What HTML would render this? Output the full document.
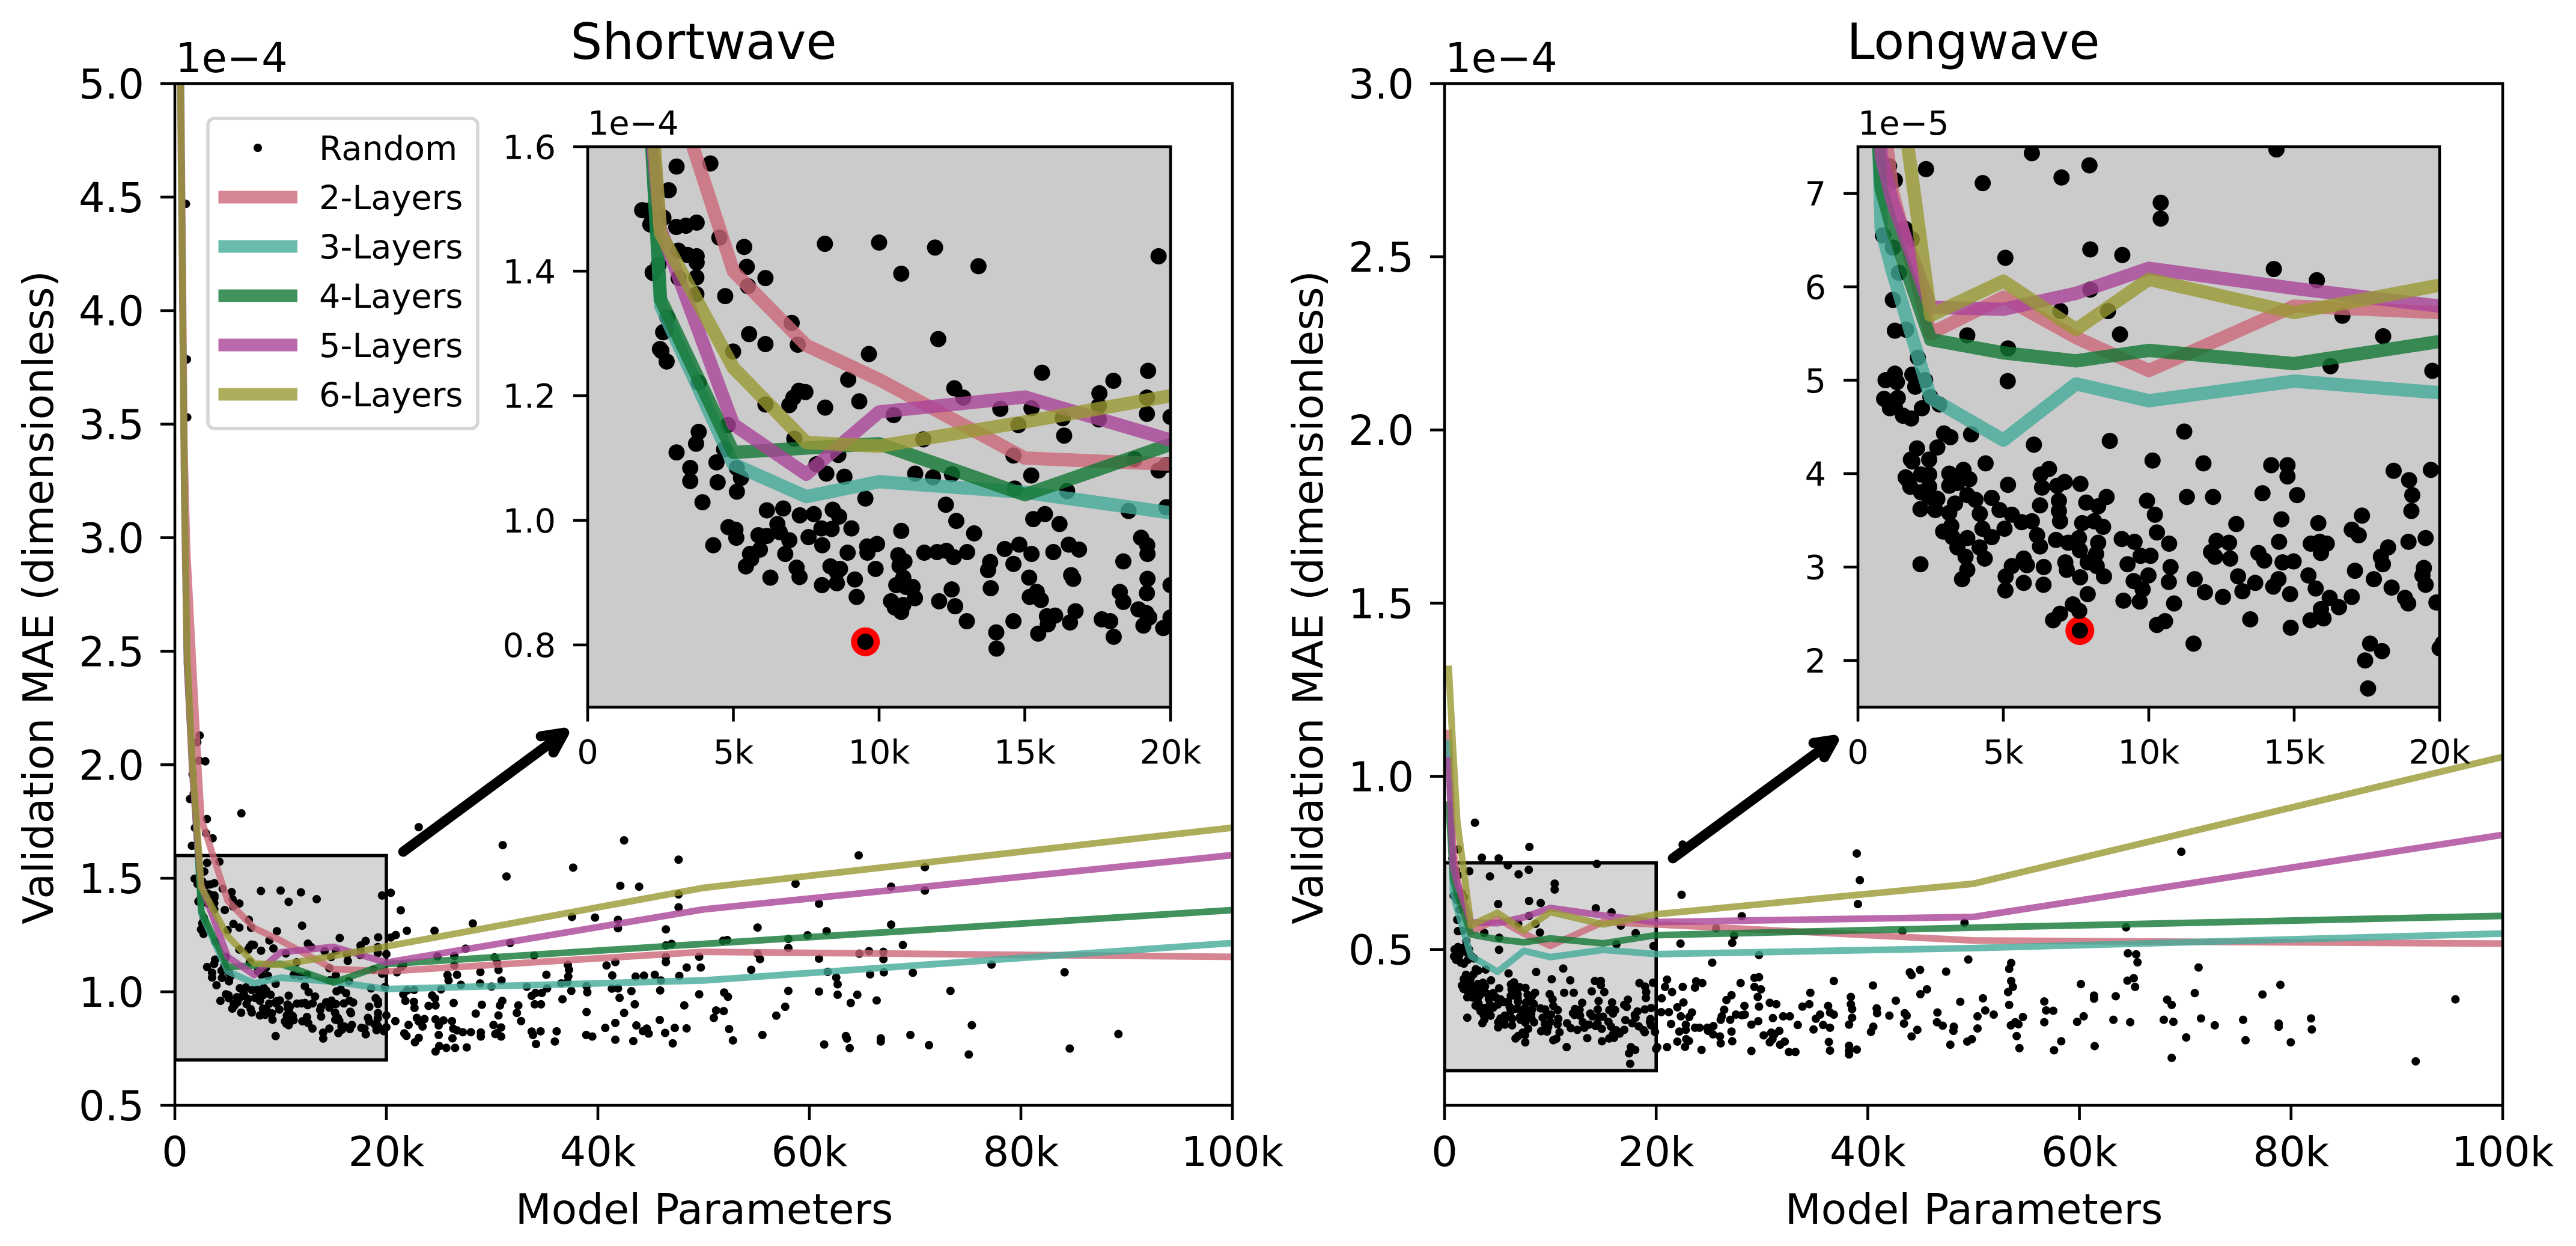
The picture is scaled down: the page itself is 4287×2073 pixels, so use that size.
<!DOCTYPE html>
<html lang="en">
<head>
<meta charset="utf-8">
<title>Validation MAE vs model parameters</title>
<style>
html,body{margin:0;padding:0;background:#fff;}
svg{display:block;}
text{font-family:"DejaVu Sans","Liberation Sans",sans-serif;fill:#000;}
</style>
</head>
<body>
<svg id="figure" xmlns="http://www.w3.org/2000/svg" width="4287" height="2073" viewBox="0 0 4287 2073">
<rect x="0" y="0" width="4287" height="2073" fill="#ffffff"/>
</svg>
<script>
// ---------- Data: Shortwave (params in thousands, MAE in units of 1e-4) ----------
const layerNames = ["2-Layers","3-Layers","4-Layers","5-Layers","6-Layers"];
const layerColors = ["#CC6677","#44AA99","#117733","#AA4499","#999933"];
const swParams = [0.4,0.9,1.15,1.65,2.2,2.5,5,7.5,10,15,20,50,100];
const sw2Layers = [5.9,3.4,2.95,2.5,2.0,1.76,1.40,1.281,1.226,1.10,1.09,1.176,1.154];
const sw3Layers = [5.7,3.2,2.45,2.0,1.6,1.345,1.090,1.038,1.062,1.045,1.012,1.050,1.215];
const sw4Layers = [5.7,3.2,2.45,2.0,1.6,1.355,1.109,1.116,1.123,1.041,1.122,1.211,1.360];
const sw5Layers = [5.6,3.15,2.45,1.97,1.62,1.468,1.154,1.074,1.174,1.198,1.129,1.363,1.602];
const sw6Layers = [5.6,3.2,2.5,2.0,1.66,1.461,1.245,1.125,1.119,1.158,1.200,1.458,1.723];
const swBest = [9.53,0.805];
const swRandom = [
[1.05,4.47],[1.14,3.785],[1.17,3.53],[2.34,2.129],[2.12,2.099],[2.88,2.015],[2.30,2.018],[1.68,1.958],[1.79,1.873],[1.43,1.849],[3.03,1.761],[6.29,1.786],[1.9,1.722],[2.95,1.698],[3.57,1.676],[1.61,1.643],[1.87,1.498],[2.23,1.398],[2.59,1.302],[2.48,1.275],
[4.21,1.573],[3.05,1.568],[2.78,1.530],[2.02,1.497],[2.60,1.486],[2.15,1.475],[3.04,1.471],[3.37,1.473],[3.74,1.478],[4.52,1.454],[5.37,1.439],[8.14,1.444],[10.0,1.446],[11.92,1.438],[13.41,1.408],[19.59,1.424],[10.76,1.396],[3.11,1.433],[3.43,1.426],[3.74,1.424],[3.74,1.414],[5.46,1.407],[2.43,1.410],[2.25,1.397],[3.12,1.389],[3.73,1.390],[6.10,1.389],[5.50,1.376],[3.73,1.363],[4.72,1.360],
[2.73,1.326],[2.67,1.304],[7.00,1.317],[5.54,1.299],[6.10,1.283],[7.21,1.282],[12.03,1.291],[4.99,1.271],[2.53,1.272],[2.71,1.255],[9.65,1.267],[15.59,1.237],[19.23,1.240],[18.04,1.224],[8.94,1.226],[3.81,1.221],[12.58,1.212],[12.89,1.197],[7.47,1.206],[7.25,1.208],[7.06,1.197],[6.92,1.185],[6.10,1.186],[8.15,1.181],[9.32,1.191],[17.56,1.204],[17.54,1.184],[19.19,1.197],[19.19,1.171],[14.16,1.179],[15.23,1.180],[10.50,1.169],[16.30,1.164],[17.54,1.162],[20.0,1.166],[14.78,1.153],[4.81,1.153],[16.35,1.136],[11.52,1.130],[3.81,1.142],[3.72,1.123],[7.09,1.131],[3.05,1.109],[4.68,1.114],[8.60,1.105],[14.61,1.104],[18.76,1.098],[4.42,1.093],[7.85,1.090],[3.52,1.084],[5.12,1.084],[8.19,1.075],[8.81,1.070],[11.24,1.075],[11.85,1.069],[12.50,1.074],[15.22,1.072],[19.59,1.080],[19.86,1.089],[3.52,1.063],[4.46,1.061],[5.26,1.068],[5.12,1.046],[14.65,1.051],[16.45,1.047],[3.94,1.029],[9.53,1.035],[12.29,1.025],[18.56,1.015],[19.86,1.021],
[6.15,1.016],[6.71,1.019],[8.41,1.017],[7.28,1.008],[7.76,1.010],[8.63,1.006],[15.69,1.010],[15.29,1.002],[12.65,0.999],[16.19,0.994],[6.51,0.994],[4.83,0.989],[5.07,0.985],[8.02,0.987],[8.37,0.986],[9.05,0.987],[10.76,0.983],[13.26,0.979],[5.10,0.972],[5.86,0.976],[6.15,0.975],[6.59,0.981],[7.58,0.973],[6.92,0.968],[18.99,0.972],[4.31,0.960],[8.05,0.960],[9.59,0.958],[9.93,0.962],[16.51,0.961],[14.81,0.961],[14.31,0.954],[16.86,0.953],[19.20,0.960],[5.91,0.953],[5.57,0.946],[6.78,0.946],[8.92,0.948],[9.60,0.948],[11.55,0.948],[11.99,0.949],[12.31,0.951],[13.02,0.949],[12.56,0.941],[15.23,0.946],[15.98,0.949],[19.21,0.946],[10.66,0.944],[10.87,0.934],[10.70,0.927],[13.81,0.933],[18.38,0.934],[5.61,0.938],[5.43,0.926],[7.17,0.924],[8.33,0.926],[8.66,0.922],[9.88,0.922],[14.61,0.930],[13.74,0.920],[16.59,0.912],[6.27,0.908],[7.27,0.909],[8.55,0.917],[9.17,0.905],[8.55,0.899],[8.04,0.896],[10.83,0.908],[15.15,0.908],[16.66,0.906],[19.21,0.906],[10.59,0.896],[11.15,0.893],[10.93,0.893],[13.83,0.891],[12.49,0.889],[18.26,0.885],[19.19,0.883],[15.41,0.885],[15.17,0.877],[15.55,0.872],[9.23,0.877],[11.23,0.875],[10.41,0.870],[12.06,0.870],[18.38,0.869],[20.0,0.896],[12.61,0.862],[10.54,0.860],[10.83,0.864],[10.76,0.853],[18.90,0.857],[19.17,0.851],[16.74,0.854],[16.04,0.847],[15.76,0.846],[13.01,0.838],[14.61,0.838],[17.64,0.841],[17.93,0.838],[19.27,0.844],[15.79,0.833],[16.55,0.836],[19.07,0.831],[20.0,0.844],[19.75,0.827],[14.02,0.820],[15.46,0.818],[18.05,0.813],[14.03,0.794],[9.53,0.805],
[20.42,1.436],[21.36,1.359],[21.94,1.269],[20.89,1.250],[20.42,1.239],[24.55,1.269],[28.17,1.301],[31.0,1.646],[31.36,1.508],[37.66,1.547],[42.48,1.667],[42.12,1.467],[43.9,1.463],[47.63,1.582],[47.63,1.429],[47.63,1.372],[23.06,1.725],[37.55,1.330],[39.73,1.327],[41.9,1.317],[41.9,1.280],[46.43,1.275],[46.43,1.204],[46.97,1.211],[27.5,1.190],[31.7,1.215],[24.83,1.156],[26.43,1.158],[26.43,1.116],[30.23,1.152],[30.49,1.127],[30.6,1.096],[33.97,1.160],[37.16,1.119],[37.27,1.097],[37.2,1.068],[37.12,1.043],[40.82,1.116],[41.65,1.131],[46.43,1.154],[46.43,1.131],[49.58,1.154],[49.73,1.107],[48.4,1.107],[54.5,1.097],[21.58,1.119],[21.43,1.11],[21.0,1.086],[25.78,1.074],[26.68,1.075],[25.88,1.050],[27.05,1.031],[28.89,1.087],[28.86,1.037],[29.94,1.023],[30.89,1.050],[35.13,1.075],[33.28,1.022],[35.2,1.015],[36.54,1.037],[38.93,1.025],[39.0,0.998],[37.49,1.004],[41.36,1.072],[41.32,1.014],[41.9,1.015],[43.57,1.067],[44.36,1.071],[45.38,1.075],[45.96,1.050],[47.7,1.070],[45.89,1.006],[43.17,1.003],[42.05,0.973],[43.49,0.945],[42.48,0.907],[38.93,0.911],[48.17,0.940],[49.58,0.989],[51.94,0.997],[52.3,0.978],[51.18,0.918],[51.9,0.915],[50.96,0.885],[45.85,0.876],[41.65,0.863],[40.7,0.841],[43.64,0.852],[44.62,0.838],[44.26,0.827],[44.8,0.816],[46.36,0.819],[47.27,0.841],[48.39,0.839],[52.41,0.836],[52.77,0.786],[47.08,0.773],[43.35,0.783],[41.65,0.789],[38.9,0.810],[39.47,0.803],[35.93,0.781],[36.1,0.826],[34.15,0.770],[34.58,0.826],[33.74,0.825],[33.86,0.810],[27.6,0.755],[26.5,0.753],[25.67,0.753],[25.0,0.761],[24.65,0.737],[22.7,0.778],[23.06,0.797],[21.9,0.806],[21.7,0.817],[22.1,0.854],[23.06,0.869],[22.88,0.885],[23.42,0.847],[23.6,0.880],[20.85,0.871],[21.6,0.989],[21.8,0.960],[22.6,0.956],[22.66,0.929],[21.97,1.006],[22.63,1.008],[24.33,0.984],[24.6,0.971],[23.99,0.938],[24.65,0.940],[25.17,1.011],[26.36,0.951],[29.03,0.943],[28.45,0.904],[30.74,0.940],[30.96,0.960],[32.48,0.940],[32.34,0.907],[30.6,0.896],[32.74,0.871],[33.74,0.982],[34.1,0.995],[34.7,0.995],[34.03,0.945],[34.62,0.945],[36.65,0.967],[24.65,0.879],[25.4,0.874],[26.2,0.871],[24.95,0.852],[24.95,0.810],[26.32,0.838],[26.68,0.830],[26.25,0.795],[27.23,0.822],[27.99,0.822],[28.93,0.821],[28.93,0.803],[30.13,0.854],[30.85,0.843],[30.49,0.819],[30.85,0.803],[30.3,0.814],
[64.66,1.601],[70.92,1.549],[58.69,1.476],[67.73,1.463],[70.92,1.446],[60.91,1.388],[55.1,1.283],[61.63,1.267],[67.73,1.296],[59.83,1.249],[58.01,1.233],[58.01,1.193],[52.23,1.228],[51.84,1.225],[68.84,1.206],[55.1,1.168],[55.33,1.144],[60.91,1.146],[64.73,1.168],[65.64,1.179],[67.0,1.176],[67.0,1.144],[61.73,1.088],[62.54,1.063],[62.67,1.033],[65.74,1.077],[67.04,1.086],[69.78,1.084],[77.22,1.120],[84.13,1.086],[58.01,1.004],[60.91,1.001],[62.67,0.987],[64.53,0.987],[63.91,0.951],[66.36,0.962],[73.34,1.004],[57.71,0.934],[56.87,0.895],[55.56,0.810],[75.36,0.853],[61.4,0.768],[63.45,0.805],[63.55,0.794],[63.81,0.752],[66.75,0.795],[66.75,0.781],[69.55,0.810],[71.31,0.765],[75.07,0.724],[84.62,0.750],[89.22,0.814]
];

// ---------- Data: Longwave (params in thousands, MAE in units of 1e-5) ----------
const lwParams = [0.4,0.8,1.2,2.5,5,7.5,10,15,20,50,100];
const lw2Layers = [11.25,8.0,7.0,5.5,5.888,5.457,5.103,5.793,5.724,5.26,5.17];
const lw3Layers = [10.96,6.62,6.15,4.81,4.358,4.961,4.78,4.99,4.866,5.04,5.46];
const lw4Layers = [9.18,7.05,6.6,5.435,5.293,5.207,5.319,5.177,5.414,5.63,5.97];
const lw5Layers = [10.46,7.4,6.9,5.78,5.759,5.93,6.198,5.983,5.793,5.94,8.31];
const lw6Layers = [13.1,10.8,8.7,5.694,6.06,5.543,6.08,5.724,6.017,6.90,10.56];
const lwBest = [7.63,2.32];
const lwRandom = [
[2.87,8.66],[8.02,7.96],[3.53,7.65],[5.12,7.63],[1.28,7.89],[0.74,7.63],[0.95,5.0],[1.1,4.7],[0.9,4.8],[1.64,3.96],[1.82,4.15],
[5.98,7.43],[14.39,7.47],[7.96,7.30],[2.34,7.26],[7.00,7.17],[4.29,7.11],[1.07,7.29],[1.27,7.14],[10.41,6.90],[10.41,6.73],[1.62,6.62],[1.85,6.51],[0.86,6.55],[1.20,6.42],[5.07,6.31],[7.99,6.40],[9.09,6.34],[14.30,6.19],[15.78,6.07],[1.41,6.15],[1.20,5.86],[7.99,5.97],[6.96,5.74],[8.60,5.74],[1.27,5.53],[1.66,5.54],[3.76,5.48],[9.01,5.49],[16.66,5.69],[18.06,5.47],[5.16,5.34],[2.06,5.24],[16.25,5.15],[19.75,5.10],[5.15,4.99],[1.27,5.07],[1.87,5.06],[2.31,5.00],[1.34,4.98],[1.97,4.93],[1.37,4.81],[2.49,4.82],[2.80,4.74],[1.27,4.71],[2.20,4.70],[1.55,4.62],[1.83,4.59],[2.96,4.43],[3.18,4.39],[3.89,4.42],[2.73,4.28],[6.05,4.31],[8.66,4.35],[11.22,4.45],[2.03,4.27],[2.45,4.15],[1.87,4.13],[4.39,4.11],[10.13,4.14],[11.88,4.11],[14.21,4.09],[14.77,4.09],[14.77,3.97],[18.42,4.03],[19.70,4.04],[18.95,3.93],[6.57,4.05],[6.28,3.99],[3.63,4.04],[3.14,4.00],[2.45,3.99],[2.17,3.99],[1.72,3.93],[3.83,3.94],[3.42,3.90],[3.14,3.87],[1.80,3.86],[2.45,3.86],[5.16,3.88],[7.65,3.89],[7.11,3.91],[6.85,3.87],[6.33,3.85],[2.17,3.80],[2.45,3.75],[2.73,3.73],[3.76,3.77],[4.04,3.72],[4.60,3.74],[3.34,3.68],[11.31,3.75],[12.21,3.75],[13.91,3.79],[15.10,3.77],[19.06,3.77],[8.55,3.75],[6.91,3.71],[9.94,3.71],[6.26,3.66],[7.85,3.69],[8.26,3.65],[2.15,3.62],[2.66,3.61],[3.14,3.58],[6.91,3.60],[19.03,3.60],[4.87,3.61],[5.29,3.56],[4.19,3.57],[10.21,3.56],[5.63,3.48],[5.98,3.49],[6.95,3.49],[7.71,3.47],[8.12,3.49],[8.43,3.43],[14.56,3.51],[17.33,3.55],[15.83,3.47],[13.01,3.46],[3.21,3.44],[4.28,3.41],[5.04,3.41],[16.98,3.40],[2.93,3.38],[4.60,3.32],[6.16,3.34],[10.28,3.37],[17.22,3.34],[3.25,3.32],[3.76,3.31],[6.26,3.22],[6.81,3.29],[7.23,3.26],[7.60,3.31],[9.07,3.30],[9.51,3.27],[19.52,3.31],[8.26,3.26],[10.70,3.25],[12.33,3.28],[12.76,3.26],[14.48,3.27],[15.57,3.25],[16.12,3.25],[18.93,3.27],[18.23,3.21],[3.42,3.21],[4.18,3.21],[7.63,3.18],[12.14,3.16],[15.88,3.27],[15.92,3.15],[12.28,3.11],[8.19,3.14],[13.77,3.15],[9.72,3.12],[10.06,3.12],[17.98,3.11],[3.70,3.11],[4.36,3.09],[5.70,3.09],[13.97,3.07],[14.60,3.05],[14.98,3.06],[12.80,3.09],[7.90,3.05],[7.13,3.05],[18.05,3.03],[2.15,3.03],[5.29,3.01],[5.81,3.02],[9.27,3.03],[8.21,3.01],[10.75,3.00],[19.46,2.99],[6.39,3.00],[7.18,2.97],[3.76,2.97],[17.09,2.96],[19.41,2.91],[9.99,2.91],[13.07,2.90],[15.49,2.91],[8.46,2.90],[5.08,2.90],[7.64,2.89],[3.58,2.87],[14.46,2.87],[17.74,2.87],[9.48,2.85],[10.69,2.84],[11.58,2.87],[13.66,2.83],[5.70,2.83],[6.38,2.81],[19.52,2.81],[14.28,2.79],[18.35,2.78],[15.74,2.77],[9.79,2.76],[5.07,2.75],[13.22,2.74],[11.93,2.73],[7.90,2.71],[14.86,2.71],[12.55,2.68],[16.98,2.68],[18.81,2.67],[16.22,2.67],[9.13,2.64],[9.69,2.63],[18.92,2.61],[10.87,2.61],[19.89,2.62],[7.39,2.60],[16.54,2.57],[7.61,2.53],[6.95,2.50],[15.92,2.55],[13.49,2.44],[6.71,2.43],[10.56,2.42],[10.28,2.38],[15.56,2.43],[16.01,2.45],[14.88,2.35],[11.54,2.18],[17.61,2.18],[18.02,2.10],[17.44,2.00],[20.0,2.13],[17.54,1.70],[7.63,2.32],
[22.5,8.03],[22.4,6.58],[38.96,7.77],[39.25,7.0],[39.07,6.31],[21.03,4.13],[20.84,3.92],[21.5,3.77],[22.51,3.92],[20.52,3.59],[21.2,3.19],[20.48,3.19],[22.0,3.33],[22.58,3.47],[23.38,3.18],[23.13,3.05],[22.33,3.07],[21.41,2.85],[22.8,2.83],[22.8,2.68],[22.19,2.63],[23.67,2.74],[24.1,2.74],[24.83,2.74],[25.41,2.79],[24.9,2.65],[25.37,2.55],[26.03,2.49],[26.1,2.29],[27.19,2.35],[27.12,2.63],[22.0,2.34],[22.84,2.41],[23.1,2.36],[22.73,2.19],[24.29,2.1],[20.1,2.18],[21.03,2.18],[23.78,4.08],[23.67,3.9],[24.36,4.03],[25.3,4.62],[27.98,4.03],[29.29,4.18],[29.72,4.2],[29.29,3.92],[29.9,3.85],[29.6,3.63],[29.72,3.35],[27.12,3.68],[26.64,3.54],[26.43,3.26],[28.34,3.37],[28.09,3.1],[27.54,3.12],[28.38,3.12],[27.0,2.97],[26.1,2.97],[26.2,3.07],[29.65,2.93],[29.0,2.83],[31.03,3.02],[30.74,3.46],[31.35,3.42],[32.0,3.07],[32.63,3.07],[33.38,2.82],[33.82,3.35],[34.47,3.42],[34.57,3.75],[36.79,4.09],[35.09,3.0],[35.49,3.12],[35.78,2.82],[36.43,2.74],[34.87,2.69],[36.25,3.37],[36.43,3.18],[36.79,3.12],[38.4,3.63],[38.4,3.42],[38.52,3.28],[38.52,3.03],[38.23,2.83],[30.16,2.52],[30.88,2.6],[31.17,2.55],[30.99,2.41],[31.64,2.65],[30.74,2.32],[32.15,2.34],[31.71,2.25],[29.0,2.07],[32.55,2.04],[33.16,2.04],[36.43,2.08],[38.23,2.22],[38.23,2.08],[38.23,1.97],[38.96,2.11],[36.32,2.33],[40.49,3.96],[40.84,3.3],[40.88,3.16],[42.04,3.09],[42.65,3.52],[43.49,3.16],[43.67,3.09],[43.42,2.86],[40.52,2.77],[40.3,2.62],[44.68,2.68],[44.14,2.49],[43.97,4.34],[44.14,4.26],[44.94,4.41],[47.4,4.36],[45.59,3.85],[44.97,3.71],[48.74,3.49],[50.88,3.59],[51.1,3.24],[51.9,3.12],[50.37,3.07],[46.58,3.18],[46.54,2.9],[47.08,2.8],[48.13,2.77],[48.09,2.65],[50.37,2.72],[49.83,2.41],[49.4,2.34],[47.8,2.25],[49.14,5.77],[43.27,5.53],[29.72,4.84],[25.67,5.61],[27.36,5.4],[27.19,5.19],[22.3,5.17],[28.09,5.96],[49.5,4.71],
[69.63,7.82],[64.41,5.64],[64.58,4.89],[65.36,4.86],[65.49,4.63],[71.26,4.48],[53.55,4.61],[53.36,4.44],[53.55,4.09],[53.71,3.92],[53.26,3.77],[53.36,3.4],[54.66,3.05],[53.94,2.9],[54.24,2.84],[53.52,2.81],[54.07,2.5],[54.33,2.15],[56.68,3.5],[56.85,3.24],[57.53,3.23],[56.68,2.9],[58.28,2.35],[57.6,2.09],[60.14,4.0],[60.4,3.07],[59.78,2.91],[61.44,2.21],[61.38,3.67],[61.38,3.58],[63.43,3.65],[63.21,2.97],[64.8,2.9],[64.54,4.1],[65.13,4.17],[65.26,3.92],[68.29,3.55],[68.72,3.4],[70.9,3.74],[67.97,2.97],[68.88,2.91],[71.49,3.01],[72.79,2.81],[70.09,2.46],[68.72,1.87],[75.47,2.97],[75.7,2.38],[77.3,3.7],[78.99,3.98],[78.83,2.86],[78.83,2.77],[79.97,2.32],[81.89,3.01],[81.96,2.69],[91.78,1.77],[95.53,3.56]
];

// ---------- Axis ticks ----------
const mainXTicks = [0,20,40,60,80,100];
const mainXLabels = ["0","20k","40k","60k","80k","100k"];
const insetXTicks = [0,5,10,15,20];
const insetXLabels = ["0","5k","10k","15k","20k"];
const swMainYTicks = [0.5,1,1.5,2,2.5,3,3.5,4,4.5,5];
const swMainYLabels = ["0.5","1.0","1.5","2.0","2.5","3.0","3.5","4.0","4.5","5.0"];
const swInsetYTicks = [0.8,1.0,1.2,1.4,1.6];
const swInsetYLabels = ["0.8","1.0","1.2","1.4","1.6"];
const lwMainYTicks = [5,10,15,20,25,30];
const lwMainYLabels = ["0.5","1.0","1.5","2.0","2.5","3.0"];
const lwInsetYTicks = [2,3,4,5,6,7];
const lwInsetYLabels = ["2","3","4","5","6","7"];

// ---------- Helpers ----------
const NS = "http://www.w3.org/2000/svg";
const root = document.getElementById("figure");
function mk(tag, parent, props) {
  const el = document.createElementNS(NS, tag);
  for (const k in props) el.setAttribute(k, props[k]);
  parent.appendChild(el);
  return el;
}
function scale(d0, d1, r0, r1) {
  return v => r0 + (v - d0) / (d1 - d0) * (r1 - r0);
}
let clipCounter = 0;

function drawAxes(frame, opts, draw) {
  const g = mk("g", root, {});
  
  
  const x = scale(opts.xDomain[0], opts.xDomain[1], frame.l, frame.r);
  const y = scale(opts.yDomain[0], opts.yDomain[1], frame.b, frame.t);
  const clipId = "clip" + (++clipCounter);
  const defs = mk("defs", g, {});
  const cp = mk("clipPath", defs, {id: clipId});
  mk("rect", cp, {x: frame.l, y: frame.t, width: frame.r - frame.l, height: frame.b - frame.t});
  if (opts.bg) {
    const bg = mk("rect", g, {x: frame.l, y: frame.t, width: frame.r - frame.l, height: frame.b - frame.t, fill: opts.bg});
    
    
  }
  const plot = mk("g", g, {"clip-path": "url(#" + clipId + ")"});
  
  
  draw(plot, x, y);

  // spines
  const spine = mk("rect", g, {x: frame.l, y: frame.t, width: frame.r - frame.l, height: frame.b - frame.t, fill: "none", stroke: "#000", "stroke-width": 4.6});
  
  

  // x ticks
  opts.xTicks.forEach((t, i) => {
    const tick = mk("line", g, {x1: x(t), x2: x(t), y1: frame.b, y2: frame.b + 24, stroke: "#000", "stroke-width": 4.6});
    
    
    const lab = mk("text", g, {x: x(t), y: frame.b + opts.xLabelDy, "text-anchor": "middle", "font-size": opts.tickFont});
    lab.textContent = opts.xLabels[i];
    
    
  });
  // y ticks
  opts.yTicks.forEach((t, i) => {
    const tick = mk("line", g, {x1: frame.l - 24, x2: frame.l, y1: y(t), y2: y(t), stroke: "#000", "stroke-width": 4.6});
    
    
    const lab = mk("text", g, {x: frame.l - opts.yLabelDx, y: y(t) + opts.tickFont * 0.3645, "text-anchor": "end", "font-size": opts.tickFont});
    lab.textContent = opts.yLabels[i];
    
    
  });
  // exponent offset
  const off = mk("text", g, {x: frame.l + opts.offsetDx, y: frame.t - opts.offsetDy, "font-size": opts.tickFont});
  off.textContent = opts.offset;
  
  
  return g;
}

function drawScatter(plot, data, x, y, diam) {
  const g = mk("g", plot, {fill: "#000"});
  
  
  data.forEach(p => {
    const c = mk("circle", g, {cx: x(p[0]), cy: y(p[1]), r: diam / 2});
    
    
  });
}

function drawLines(plot, xs, series, x, y, width) {
  series.forEach((vals, i) => {
    const pts = vals.map((v, j) => x(xs[j]).toFixed(2) + "," + y(v).toFixed(2)).join(" ");
    const line = mk("polyline", plot, {points: pts, fill: "none", stroke: layerColors[i], "stroke-opacity": 0.8, "stroke-width": width, "stroke-linejoin": "round", "stroke-linecap": "square"});
    
    
  });
}

function drawBox(plot, x, y, x0, x1, y0, y1) {
  const box = mk("rect", plot, {x: x(x0), y: y(y1), width: x(x1) - x(x0), height: y(y0) - y(y1), fill: "#d5d5d5", stroke: "#000", "stroke-width": 5.6});
  
  
}

function drawArrow(x1, y1, x2, y2, bx1, by1, bx2, by2) {
  const g = mk("g", root, {fill: "none", stroke: "#000", "stroke-width": 16.7, "stroke-linecap": "round", "stroke-linejoin": "round"});
  
  
  mk("line", g, {x1: x1, y1: y1, x2: x2 - 4, y2: y2 + 4});
  mk("polyline", g, {points: bx1 + "," + by1 + " " + (x2 - 3) + "," + (y2 + 3) + " " + bx2 + "," + by2});
}

function label(txt, x, y, size, name, extra) {
  const t = mk("text", root, Object.assign({x: x, y: y, "text-anchor": "middle", "font-size": size}, extra || {}));
  t.textContent = txt;
  
  
}

const MAIN_FONT = 69.5, TICK_FONT = 68.5, INSET_FONT = 55.6, TITLE_FONT = 83.3, LEGEND_FONT = 55.6;
const mainT = 139, mainB = 1839, insetT = 244, insetB = 1176.5;

// ---------- Shortwave main ----------
drawAxes({l: 291, r: 2051, t: mainT, b: mainB}, {
  name: "shortwave-main-axes", xDomain: [0, 100], yDomain: [0.5, 5],
  xTicks: mainXTicks, xLabels: mainXLabels, yTicks: swMainYTicks, yLabels: swMainYLabels,
  tickFont: TICK_FONT, xLabelDy: 101, yLabelDx: 51, offset: "1e\u22124", offsetDx: 1, offsetDy: 19
}, (plot, x, y) => {
  drawBox(plot, x, y, 0, 20, 0.7, 1.6);
  drawScatter(plot, swRandom, x, y, 14);
  drawLines(plot, swParams, [sw2Layers, sw3Layers, sw4Layers, sw5Layers, sw6Layers], x, y, 11.1);
});

// ---------- Shortwave inset ----------
drawAxes({l: 978, r: 1948, t: insetT, b: insetB}, {
  name: "shortwave-inset-axes", xDomain: [0, 20], yDomain: [0.7, 1.6],
  xTicks: insetXTicks, xLabels: insetXLabels, yTicks: swInsetYTicks, yLabels: swInsetYLabels,
  tickFont: INSET_FONT, xLabelDy: 94, yLabelDx: 53, offset: "1e\u22124", offsetDx: 0, offsetDy: 20, bg: "#cbcbcb"
}, (plot, x, y) => {
  const red = mk("circle", plot, {cx: x(swBest[0]), cy: y(swBest[1]), r: 24, fill: "#ff0000"});
  
  
  drawScatter(plot, swRandom, x, y, 27);
  drawLines(plot, swParams, [sw2Layers, sw3Layers, sw4Layers, sw5Layers, sw6Layers], x, y, 22.2);
});

// ---------- Longwave main ----------
drawAxes({l: 2404, r: 4165, t: mainT, b: mainB}, {
  name: "longwave-main-axes", xDomain: [0, 100], yDomain: [0.5, 30],
  xTicks: mainXTicks, xLabels: mainXLabels, yTicks: lwMainYTicks, yLabels: lwMainYLabels,
  tickFont: TICK_FONT, xLabelDy: 101, yLabelDx: 51, offset: "1e\u22124", offsetDx: 1, offsetDy: 19
}, (plot, x, y) => {
  drawBox(plot, x, y, 0, 20, 1.5, 7.5);
  drawScatter(plot, lwRandom, x, y, 14);
  drawLines(plot, lwParams, [lw2Layers, lw3Layers, lw4Layers, lw5Layers, lw6Layers], x, y, 11.1);
});

// ---------- Longwave inset ----------
drawAxes({l: 3092, r: 4060, t: insetT, b: insetB}, {
  name: "longwave-inset-axes", xDomain: [0, 20], yDomain: [1.5, 7.5],
  xTicks: insetXTicks, xLabels: insetXLabels, yTicks: lwInsetYTicks, yLabels: lwInsetYLabels,
  tickFont: INSET_FONT, xLabelDy: 94, yLabelDx: 53, offset: "1e\u22125", offsetDx: 0, offsetDy: 20, bg: "#cbcbcb"
}, (plot, x, y) => {
  const red = mk("circle", plot, {cx: x(lwBest[0]), cy: y(lwBest[1]), r: 24, fill: "#ff0000"});
  
  
  drawScatter(plot, lwRandom, x, y, 27);
  drawLines(plot, lwParams, [lw2Layers, lw3Layers, lw4Layers, lw5Layers, lw6Layers], x, y, 22.2);
});

// ---------- Arrows ----------
drawArrow(671, 1417, 942, 1216, 900, 1225, 921, 1252);
drawArrow(2784, 1428, 3055, 1228, 3018, 1236, 3036, 1260);

// ---------- Titles and axis labels ----------
label("Shortwave", 1171, 98, TITLE_FONT, "shortwave-title");
label("Longwave", 3284, 98, TITLE_FONT, "longwave-title");
label("Model Parameters", 1172, 2036, MAIN_FONT, "shortwave-x-axis-title");
label("Model Parameters", 3285, 2036, MAIN_FONT, "longwave-x-axis-title");
label("Validation MAE (dimensionless)", 0, 0, MAIN_FONT, "shortwave-y-axis-title", {transform: "translate(88 994) rotate(-90)"});
label("Validation MAE (dimensionless)", 0, 0, MAIN_FONT, "longwave-y-axis-title", {transform: "translate(2201 994) rotate(-90)"});

// ---------- Legend ----------
const legend = mk("g", root, {});


const legendBox = mk("rect", legend, {x: 346, y: 197, width: 449, height: 516, rx: 11, ry: 11, fill: "#fff", "fill-opacity": 0.8, stroke: "#d6d6d6", "stroke-width": 5.6});


const legendDot = mk("circle", legend, {cx: 429, cy: 246, r: 7, fill: "#000"});


const legendRandom = mk("text", legend, {x: 531, y: 266, "font-size": LEGEND_FONT});
legendRandom.textContent = "Random";


layerNames.forEach((name, i) => {
  const cy = 328 + i * 82;
  const sw = mk("rect", legend, {x: 363.5, y: cy - 10.5, width: 131.5, height: 21, fill: layerColors[i], "fill-opacity": 0.8});
  
  
  const t = mk("text", legend, {x: 531, y: cy + 20, "font-size": LEGEND_FONT});
  t.textContent = name;
  
  
});
</script>
</body>
</html>
